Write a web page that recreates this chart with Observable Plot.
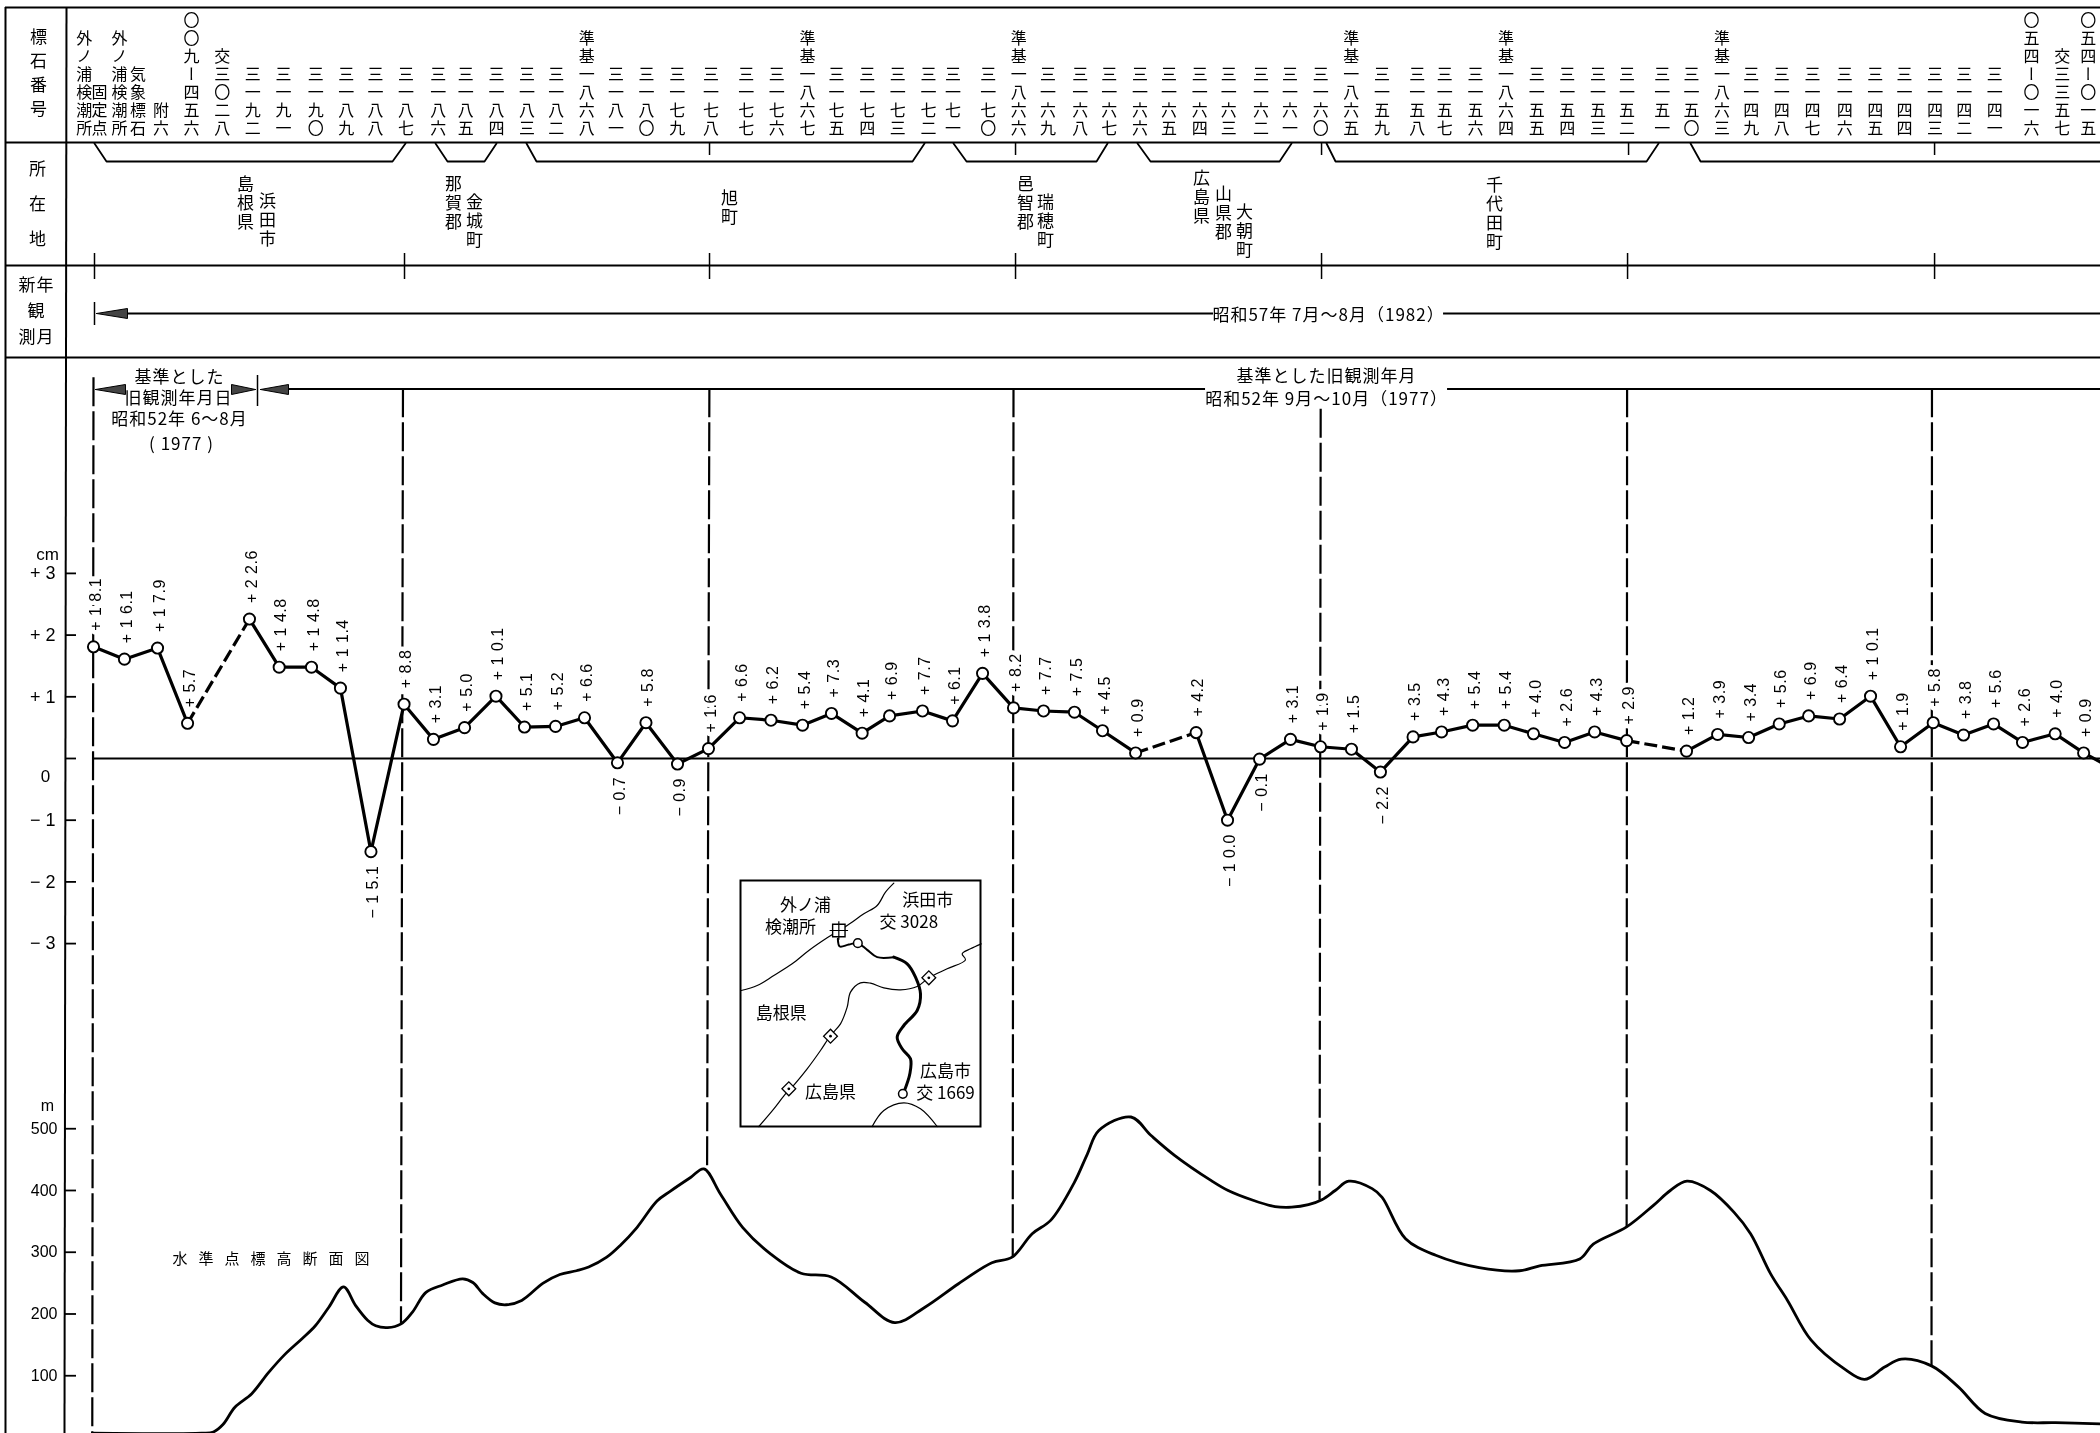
<!DOCTYPE html>
<html lang="ja">
<head>
<meta charset="utf-8">
<script src="https://cdn.jsdelivr.net/npm/d3@7"></script>
<script src="https://cdn.jsdelivr.net/npm/@observablehq/plot@0.6"></script>
<style>
html,body{margin:0;padding:0;background:#fff;}
#chart{position:relative;width:2100px;height:1433px;overflow:hidden;background:#fff;}
#chart svg{position:absolute;background:transparent;max-width:none;will-change:transform;}
.vl text{letter-spacing:.5px;}
.ls text{letter-spacing:1px;}
.cap text{letter-spacing:11px;}
.vt text,.vt19 text,.vt7 text,.vt18 text{writing-mode:vertical-rl;text-orientation:upright;}
.vt text{letter-spacing:2px;}
.vt19 text{letter-spacing:2px;}
.vt7 text{letter-spacing:7px;}
.vt18 text{letter-spacing:18px;}
</style>
</head>
<body>
<div id="chart"></div>
<script>
// ---- Displacement of each bench mark (mm), along the route (km)
const stationKm = [0,2.02,4.18,6.14,10.18,12.12,14.23,16.12,18.11,20.27,22.19,24.22,26.27,28.13,30.16,32.05,34.2,36.06,38.12,40.14,42.17,44.22,46.28,48.17,50.17,51.96,54.11,56.07,58.03,60.05,62.01,64.03,65.86,68.02,71.97,74.02,76.11,78.13,80.09,82.11,84.0,86.13,87.99,90.02,92.08,93.99,96.02,97.98,100.07,103.98,106.01,108.03,110.03,111.95,113.97,115.99,117.95,120.08,122.06,124.02,125.91,128.04,129.9];
const displacementMm = [18.1,16.1,17.9,5.7,22.6,14.8,14.8,11.4,-15.1,8.8,3.1,5.0,10.1,5.1,5.2,6.6,-0.7,5.8,-0.9,1.6,6.6,6.2,5.4,7.3,4.1,6.9,7.7,6.1,13.8,8.2,7.7,7.5,4.5,0.9,4.2,-10.0,-0.1,3.1,1.9,1.5,-2.2,3.5,4.3,5.4,5.4,4.0,2.6,4.3,2.9,1.2,3.9,3.4,5.6,6.9,6.4,10.1,1.9,5.8,3.8,5.6,2.6,4.0,0.9];
const dashedAfter = [3,33,48];            // segments drawn with a broken line
const onBoundary = [0,9,19,29,38,48,57];  // stations whose label interrupts a section boundary
const exitKm = 131.0, exitMm = -0.6;      // line leaving the sheet on the right

// ---- Elevation profile
const profileKm = [-0.08,7.05,7.83,8.45,9.23,10.33,11.42,12.51,13.61,14.48,15.36,16.32,17.10,17.89,18.42,19.20,20.08,20.82,21.70,22.79,24.10,24.76,25.41,26.20,26.94,27.95,29.35,30.44,31.53,32.32,33.50,34.38,35.47,36.78,37.66,38.97,39.84,40.93,42.38,44.21,46.18,48.15,50.34,52.30,54.27,56.46,58.64,59.96,61.27,62.49,64.0,64.87,65.62,67.72,69.03,70.56,72.96,74.06,75.59,77.12,78.21,79.30,80.18,81.05,81.93,83.46,84.11,85.64,87.61,90.45,93.08,94.39,97.01,97.89,100.07,101.82,102.92,104.01,105.54,107.07,108.16,109.47,110.57,112.10,114.28,115.60,116.91,118.0,119.97,121.72,123.47,125.87,128.06,131.03];
const profileM = [7,7,9,21,49,71,105,135,160,181,211,244,214,190,181,178,184,203,235,247,257,251,233,218,215,222,250,264,270,276,292,311,340,383,399,421,435,394,340,297,266,260,219,186,211,249,283,292,330,352,412,459,497,519,489,457,416,400,385,374,373,377,385,400,415,403,389,322,295,275,270,278,289,313,341,376,400,415,400,365,330,265,222,158,111,94,114,127,116,82,39,25,24,22];

// ---- Section boundaries (broken verticals)
const sectionTopKm = [0,20.2,40.2,60.05,80.1,100.1,120.0];
const sectionBottomKm = [-0.08,20.07,40.05,60.0,80.03,100.07,119.97];
const sectionTopM = [1717,1699,1699,1699,1666,1699,1699];
const sectionBottomM = [6,184,435,292,385,341,116];

// ---- Axis ticks
const cmTicks = [-30,-20,-10,0,10,20,30];
const mTicks = [100,200,300,400,500];

// ---- Bench mark numbers (top row)
const stoneLabels = ["外ノ浦検潮所","固定点","外ノ浦検潮所","気象標石","附六","〇〇九ー四五六","交三〇二八",
"三一九二","三一九一","三一九〇","三一八九","三一八八","三一八七","三一八六","三一八五","三一八四","三一八三","三一八二","準基一八六八",
"三一八一","三一八〇","三一七九","三一七八","三一七七","三一七六","準基一八六七","三一七五","三一七四","三一七三","三一七二","三一七一","三一七〇","準基一八六六",
"三一六九","三一六八","三一六七","三一六六","三一六五","三一六四","三一六三","三一六二","三一六一","三一六〇","準基一八六五",
"三一五九","三一五八","三一五七","三一五六","準基一八六四","三一五五","三一五四","三一五三","三一五二","三一五一","三一五〇","準基一八六三",
"三一四九","三一四八","三一四七","三一四六","三一四五","三一四四","三一四三","三一四二","三一四一","〇五四ー〇一六","交三三五七","〇五四ー〇一五"];
const stoneKm = [-0.6,0.4,1.7,2.9,4.4,6.4,8.4,10.4,12.4,14.5,16.5,18.4,20.4,22.5,24.3,26.3,28.3,30.2,32.2,34.1,36.1,38.1,40.3,42.6,44.6,46.6,48.5,50.5,52.5,54.5,56.1,58.4,60.4,62.3,64.4,66.3,68.3,70.2,72.2,74.1,76.2,78.1,80.1,82.1,84.1,86.4,88.2,90.2,92.2,94.2,96.2,98.2,100.1,102.4,104.3,106.3,108.2,110.2,112.2,114.3,116.3,118.2,120.2,122.1,124.1,126.5,128.5,130.2];

// ---- Inset map (map units)
const mapCoast = [[62,390],[110,375],[160,345],[215,310],[265,270],[320,232],[355,210],[380,195],[430,160],[470,135],[495,95],[520,68]];
const mapBorder = [[115,798],[160,745],[195,700],[210,685],[260,625],[300,570],[330,525],[360,490],[380,440],[390,395],[420,367],[450,368],[490,382],[540,388],[590,378],[625,352],[680,325],[735,298],[725,280],[750,265],[782,250]];
const mapRouteA = [[352,235],[358,258],[385,252],[412,248],[440,268],[470,290],[520,290]];
const mapRouteB = [[520,290],[560,310],[585,350],[600,400],[590,450],[550,495],[530,530],[545,565],[570,595],[568,640],[552,690]];
const mapBay = [[455,798],[490,750],[550,727],[600,745],[650,798]];
const mapTexts = [["外ノ浦",255,135],["検潮所",210,200],["浜田市",622,120],["交 3028",565,185],["島根県",182,460],["広島県",330,695],["広島市",675,632],["交 1669",675,699]];
const mapMarks = [[625,352],[330,527],[205,685]];

// ---- Shared scales and layout
const JP = "'Noto Sans CJK JP','Noto Sans',sans-serif";
const NUM = "'Liberation Sans',Arial,sans-serif";
const xScale = {domain:[-6.07,131],range:[0,2100]};
const sheetY = {domain:[0,1433],range:[0,1433]};
const at = px => (px-93)/15.32;
const host = document.getElementById("chart");
function place(svg,left,top){svg.style.left=left+"px";svg.style.top=top+"px";host.appendChild(svg);}

// ---- Elevation layer
const profile = profileKm.map((km,i)=>({km,m:profileM[i]}));
const sections = sectionTopKm.map((k,i)=>({x1:k,x2:sectionBottomKm[i],y1:sectionTopM[i],y2:sectionBottomM[i]}));
place(Plot.plot({
  width:2100,height:1433,marginLeft:65,marginRight:0,marginTop:0,marginBottom:0,
  x:{...xScale,axis:null},
  y:{domain:[0,2327],range:[1437,0],axis:null},
  marks:[
    Plot.axisY({ticks:mTicks,tickSize:-11,tickPadding:19,label:null,fontSize:16,fontFamily:NUM,stroke:"#000",strokeWidth:1.8,fill:"#000"}),
    Plot.text(["m"],{x:at(47),y:537,fontSize:16,fontFamily:NUM,fill:"#000"}),
    Plot.text(["水準点標高断面図"],{x:at(276),y:289,fontSize:15,fontFamily:JP,fill:"#000",className:"cap"}),
    Plot.link(sections,{x1:"x1",y1:"y1",x2:"x2",y2:"y2",stroke:"#000",strokeWidth:2.2,strokeDasharray:"29,5"}),
    Plot.line(profile,{x:"km",y:"m",stroke:"#000",strokeWidth:2.8,curve:"catmull-rom",strokeLinejoin:"round"})
  ]
}),0,0);

// ---- Displacement layer
const stations = stationKm.map((km,i)=>({km,mm:displacementMm[i],i}));
const segs = stations.map((s,i)=>{
  const n = stations[i+1] ?? {km:exitKm,mm:exitMm};
  return {x1:s.km,y1:s.mm,x2:n.km,y2:n.mm,dash:dashedAfter.includes(i)};
});
const fmtVal = v => {
  const a = Math.abs(v).toFixed(1);
  return (v<0?"− ":"+ ")+(a.length>3?a[0]+" "+a.slice(1):a);
};
const valueStyle = {x:"km",y:"mm",text:d=>fmtVal(d.mm),rotate:-90,fontSize:16,fontFamily:NUM,fill:"#000",stroke:"#fff",paintOrder:"stroke",className:"vl"};
place(Plot.plot({
  width:2100,height:1433,marginLeft:65,marginRight:0,marginTop:0,marginBottom:0,
  x:{...xScale,axis:null},
  y:{domain:[-109.4,122.85],range:[1433,0],axis:null},
  marks:[
    Plot.axisY({ticks:cmTicks,tickSize:-11,tickPadding:21,label:null,fontSize:18,fontFamily:NUM,stroke:"#000",strokeWidth:1.8,fill:"#000",
      tickFormat:d=>d===0?"":(d<0?"− ":"+ ")+Math.abs(d/10)}),
    Plot.text(["cm"],{x:at(47),y:33,fontSize:17,fontFamily:NUM,fill:"#000"}),
    Plot.text(["0"],{x:at(45),y:-3,fontSize:17,fontFamily:NUM,fill:"#000"}),
    Plot.ruleY([0],{x1:0,x2:131,stroke:"#000",strokeWidth:1.8}),
    Plot.text(stations.filter(d=>d.mm>=0&&!onBoundary.includes(d.i)),{...valueStyle,strokeWidth:3,textAnchor:"start",dy:-16,dx:2}),
    Plot.text(stations.filter(d=>d.mm>=0&&onBoundary.includes(d.i)),{...valueStyle,strokeWidth:9,textAnchor:"start",dy:-16,dx:2}),
    Plot.text(stations.filter(d=>d.mm<0),{...valueStyle,strokeWidth:3,textAnchor:"end",dy:14,dx:2}),
    Plot.link(segs.filter(d=>!d.dash),{x1:"x1",y1:"y1",x2:"x2",y2:"y2",stroke:"#000",strokeWidth:3.2,strokeLinecap:"round"}),
    Plot.link(segs.filter(d=>d.dash),{x1:"x1",y1:"y1",x2:"x2",y2:"y2",stroke:"#000",strokeWidth:3.2,strokeDasharray:"13,5"}),
    Plot.dot(stations,{x:"km",y:"mm",r:5.6,fill:"#fff",stroke:"#000",strokeWidth:1.9})
  ]
}),0,0);

// ---- Table header layer
const bracket = (id,a,b,c,d)=>[[a,143],[b,161],[c,161],[d,143]].map(([x,y])=>({id,x:at(x),y}));
const brackets = [
  bracket(1,94,106,392,405),bracket(2,435,447,484,496),bracket(3,526,536,912,924),
  bracket(4,953,966,1096,1107),bracket(5,1137,1150,1279,1291),bracket(6,1326,1335,1646,1658),
  bracket(7,1690,1700,2100,2100)
].flat().filter(d=>!(d.id===7&&d.y===143&&d.x>130));
const tri = (id,tip,base,y,h)=>[[tip,y],[base,y-h],[base,y+h],[tip,y]].map(([x,yy])=>({id,x:at(x),y:yy}));
const triangles = [tri(1,96,127,313,5),tri(2,95,125,389,5),tri(3,255,231,389,5),tri(4,260,288,389,5)].flat();
const hLines = [7,142,265,357];
const rowTicks = [94,404,709,1015,1321,1627,1934];
const townLabels = [
  ["島根県",245,232],["浜田市",267,249],["那賀郡",453,232],["金城町",474,250],["旭町",729,227],
  ["邑智郡",1025,232],["瑞穂町",1045,250],["広島県",1201,226],["山県郡",1223,242],["大朝町",1244,260],["千代田町",1494,252]
];
const oneLine = [
  ["新年",36,285],["観",36,311],["測月",36,337],
  ["基準とした",179,377],["旧観測年月日",178,398],["昭和52年 6〜8月",179,419],["( 1977 )",181,444],
  ["基準とした旧観測年月",1326,376],["昭和52年 9月〜10月（1977）",1326,399],
  ["昭和57年 7月〜8月（1982）",1328,315]
];
place(Plot.plot({
  width:2100,height:1433,margin:0,
  x:{...xScale,axis:null},
  y:{...sheetY,axis:null},
  marks:[
    Plot.ruleY(hLines,{x1:at(5),x2:131,stroke:"#000",strokeWidth:2}),
    Plot.ruleX([at(5)],{y1:7,y2:1433,stroke:"#000",strokeWidth:2}),
    Plot.link([{a:at(66),b:at(64)}],{x1:"a",y1:()=>7,x2:"b",y2:()=>1433,stroke:"#000",strokeWidth:2}),
    Plot.line(brackets,{x:"x",y:"y",z:"id",stroke:"#000",strokeWidth:1.8}),
    Plot.ruleX(rowTicks,{x:d=>at(d),y1:253,y2:279,stroke:"#000",strokeWidth:1.5}),
    Plot.ruleX([709,1015,1321,1628,1934],{x:d=>at(d),y1:143,y2:155,stroke:"#000",strokeWidth:1.5}),
    // new-survey arrow row
    Plot.ruleX([94],{x:d=>at(d),y1:302,y2:325,stroke:"#000",strokeWidth:1.5}),
    Plot.ruleY([313],{x1:at(125),x2:at(1213),stroke:"#000",strokeWidth:2}),
    Plot.ruleY([313],{x1:at(1443),x2:131,stroke:"#000",strokeWidth:2}),
    // old-survey arrow row
    Plot.ruleX([257],{x:d=>at(d),y1:375,y2:406,stroke:"#000",strokeWidth:1.5}),
    Plot.ruleY([388.5],{x1:at(288),x2:at(1205),stroke:"#000",strokeWidth:2}),
    Plot.ruleY([388.5],{x1:at(1447),x2:131,stroke:"#000",strokeWidth:2}),
    Plot.line(triangles,{x:"x",y:"y",z:"id",fill:"#444",stroke:"#000",strokeWidth:1}),
    // row titles
    Plot.text(["標石番号"],{x:at(38),y:124,textAnchor:"end",lineAnchor:"bottom",fontSize:17,fontFamily:JP,fill:"#000",className:"vt7"}),
    Plot.text(["所在地"],{x:at(37),y:264.5,textAnchor:"end",lineAnchor:"bottom",fontSize:17,fontFamily:JP,fill:"#000",className:"vt18"}),
    // bench mark numbers
    Plot.text(stoneLabels.map((t,i)=>({t,km:stoneKm[i]})),{x:"km",y:()=>137,text:"t",textAnchor:"end",lineAnchor:"bottom",fontSize:16,fontFamily:JP,fill:"#000",className:"vt"}),
    // municipalities
    Plot.text(townLabels,{x:d=>at(d[1]),y:d=>d[2],text:d=>d[0],textAnchor:"end",lineAnchor:"bottom",fontSize:17,fontFamily:JP,fill:"#000",className:"vt19"}),
    // single line texts
    Plot.text(oneLine,{x:d=>at(d[1]),y:d=>d[2],text:d=>d[0],fontSize:17,fontFamily:JP,fill:"#000",className:"ls"})
  ]
}),0,0);

// ---- Inset map
const ln = (pts,w)=>Plot.line(pts,{x:d=>d[0],y:d=>d[1],stroke:"#000",strokeWidth:w,curve:"catmull-rom"});
place(Plot.plot({
  width:244,height:250,margin:2,
  x:{domain:[60,780],axis:null},
  y:{domain:[60,798],range:[2,248],axis:null},
  marks:[
    Plot.frame({fill:"#fff",stroke:"#000",strokeWidth:2}),
    ln(mapCoast,1.2),ln(mapBorder,1.2),ln(mapBay,1.2),ln(mapRouteA,2),ln(mapRouteB,3),
    Plot.dot([[355,210]],{x:d=>d[0],y:d=>d[1],symbol:"square",r:7,fill:"#fff",stroke:"#000",strokeWidth:1.4}),
    Plot.dot([[355,210]],{x:d=>d[0],y:d=>d[1],symbol:"plus",r:6,stroke:"#000",strokeWidth:1.2}),
    Plot.dot([[412,248],[547,700]],{x:d=>d[0],y:d=>d[1],r:4.3,fill:"#fff",stroke:"#000",strokeWidth:1.5}),
    Plot.dot(mapMarks,{x:d=>d[0],y:d=>d[1],symbol:"square",rotate:45,r:5.5,fill:"#fff",stroke:"#000",strokeWidth:1.3}),
    Plot.dot(mapMarks,{x:d=>d[0],y:d=>d[1],r:1.4,fill:"#000"}),
    Plot.text(mapTexts,{x:d=>d[1],y:d=>d[2],text:d=>d[0],fontSize:17,fontFamily:JP,fill:"#000"})
  ]
}),738,878);
</script>
</body>
</html>
